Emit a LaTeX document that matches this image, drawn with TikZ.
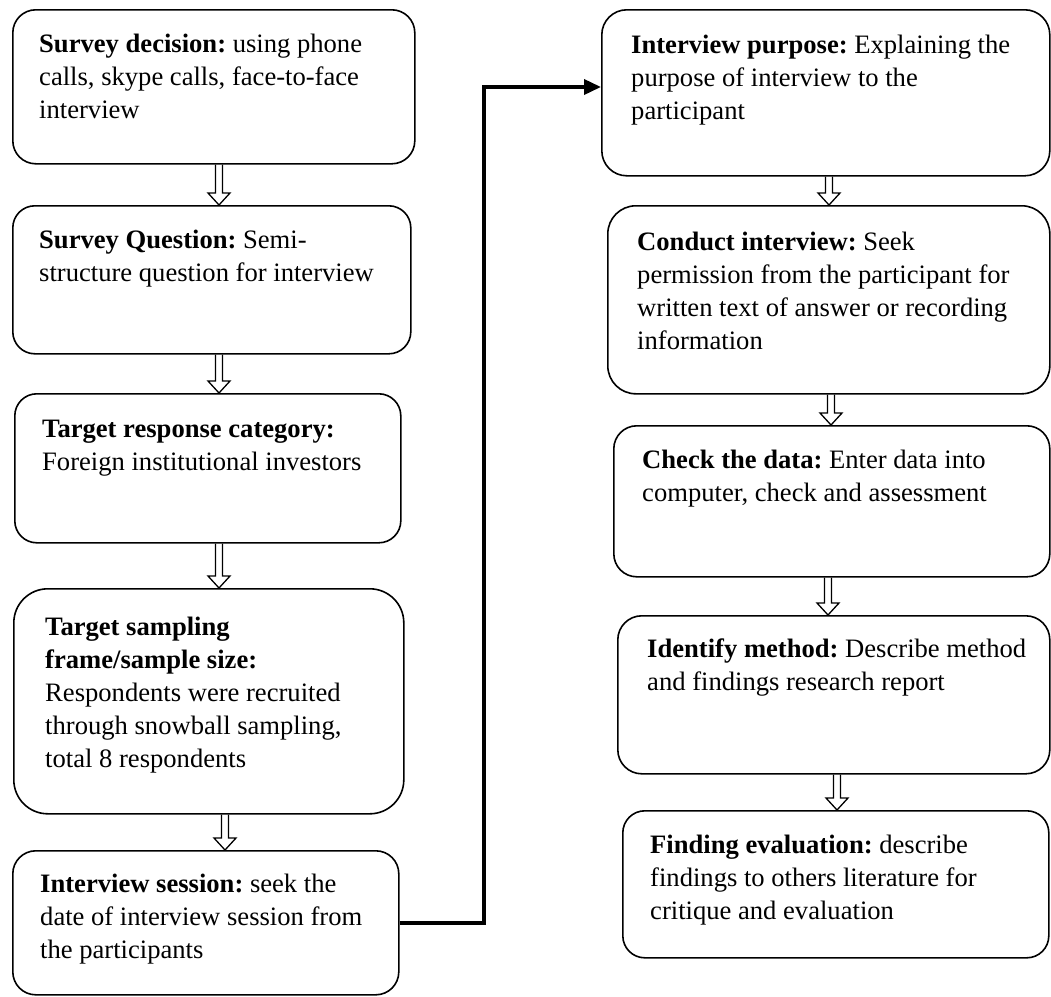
\documentclass[tikz,border=0pt]{standalone}
\usepackage{fontspec}
\setmainfont{Liberation Serif}
\usetikzlibrary{calc,arrows.meta}
\frenchspacing
\tikzset{
  box/.style={draw, line width=1.6pt, inner sep=0pt, anchor=north west},
  txt/.style={anchor=north west, inner sep=0pt, align=left,
    font=\fontsize{26.6}{33}\selectfont\frenchspacing},
  harrow/.style={draw, line width=1.3pt, line join=miter},
  conn/.style={line width=3.6pt, -{Triangle[length=17pt,width=15pt]}},
}
\newcommand\hollowarrow[3]{%
  \draw[harrow] let \p1=(#1.south), \p2=(#2.north) in
    ({#3pt-3.5pt},\y1) -- ({#3pt-3.5pt},{\y2+12pt}) -- ({#3pt-11pt},{\y2+12pt})
    -- (#3pt,\y2) -- ({#3pt+11pt},{\y2+12pt}) -- ({#3pt+3.5pt},{\y2+12pt})
    -- ({#3pt+3.5pt},\y1);
}
\begin{document}
\begin{tikzpicture}[x=1pt,y=-1pt]
\useasboundingbox (0,0) rectangle (1051,996);
% left column boxes
\node[box, minimum width=402, minimum height=154, rounded corners=23] (b1) at (12,9) {};
\node[box, minimum width=398, minimum height=148, rounded corners=22] (b2) at (12,205) {};
\node[box, minimum width=386, minimum height=149, rounded corners=22] (b3) at (14,393) {};
\node[box, minimum width=390, minimum height=225, rounded corners=34] (b4) at (13,588) {};
\node[box, minimum width=386, minimum height=144, rounded corners=23] (b5) at (12,850) {};
% right column boxes
\node[box, minimum width=448, minimum height=166, rounded corners=25] (b6) at (601,9) {};
\node[box, minimum width=442, minimum height=188, rounded corners=28] (b7) at (607,205) {};
\node[box, minimum width=436, minimum height=151, rounded corners=23] (b8) at (613,425) {};
\node[box, minimum width=432, minimum height=158, rounded corners=24] (b9) at (617,615) {};
\node[box, minimum width=426, minimum height=147, rounded corners=22] (b10) at (622,810) {};
% texts (anchor at first baseline minus strut height 23.1)
\node[txt] (t1) at (39,29.6) {\strut\textbf{Survey decision:} using phone\\calls, skype calls, face-to-face\\interview};
\node[txt] (t2) at (39,224.9) {\strut\textbf{Survey Question:} Semi-\\structure question for interview};
\node[txt] (t3) at (42,413.9) {\strut\textbf{Target response category:}\\Foreign institutional investors};
\node[txt] (t4) at (45,611.9) {\strut\textbf{Target sampling}\\\textbf{frame/sample size:}\\Respondents were recruited\\through snowball sampling,\\total 8 respondents};
\node[txt] (t5) at (40,868.9) {\strut\textbf{Interview session:} seek the\\date of interview session from\\the participants};
\node[txt] (t6) at (631,29.9) {\strut\textbf{Interview purpose:} Explaining the\\purpose of interview to the\\participant};
\node[txt] (t7) at (637,226.9) {\strut\textbf{Conduct interview:} Seek\\permission from the participant for\\written text of answer or recording\\information};
\node[txt] (t8) at (642,444.9) {\strut\textbf{Check the data:} Enter data into\\computer, check and assessment};
\node[txt] (t9) at (647,633.9) {\strut\textbf{Identify method:} Describe method\\and findings research report};
\node[txt] (t10) at (650,829.9) {\strut\textbf{Finding evaluation:} describe\\findings to others literature for\\critique and evaluation};
% hollow arrows
\hollowarrow{b1}{b2}{219}
\hollowarrow{b2}{b3}{219}
\hollowarrow{b3}{b4}{219}
\hollowarrow{b4}{b5}{225}
\hollowarrow{b6}{b7}{829}
\hollowarrow{b7}{b8}{831}
\hollowarrow{b8}{b9}{828}
\hollowarrow{b9}{b10}{837}
% connector
\coordinate (turn) at (484,87);
\draw[conn] (b5.east) -| (turn) -- (turn -| b6.west);
\end{tikzpicture}
\end{document}
